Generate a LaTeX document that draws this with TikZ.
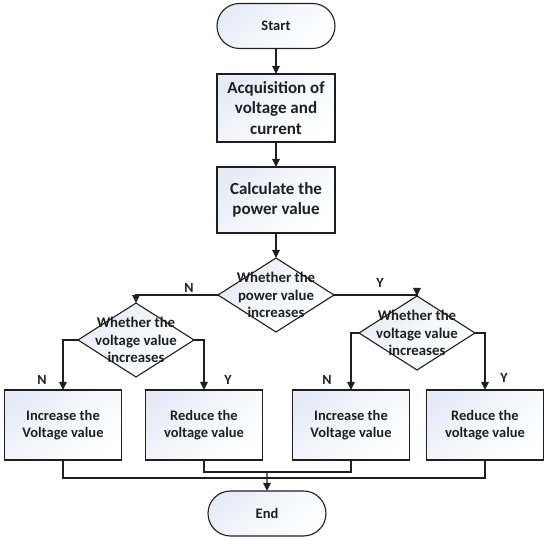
\documentclass[tikz,border=0pt]{standalone}
\usepackage{fontspec}
\setmainfont{Carlito}
\usetikzlibrary{arrows.meta,shapes.geometric,shapes.misc}
\definecolor{FlowInk}{gray}{0.12}
\definecolor{FlowTint}{RGB}{230,235,246}
\tikzset{
    flow/diagram/.style={
        x=1pt, y=-1pt,
        font=\bfseries\fontsize{14.5}{17.5}\selectfont,
        draw=FlowInk,
        text=FlowInk,
        line width=1.3pt,
        every node/.style={inner sep=0pt, outer sep=0pt}
    },
    flow/shade/.style={top color=FlowTint, bottom color=white, middle color=white!60!FlowTint, shading angle=40},
    flow/terminal/.style={
        flow/shade, rounded rectangle, draw=FlowInk, line width=1.1pt,
        minimum width=118pt, minimum height=45pt
    },
    flow/process/.style={
        flow/shade, rectangle, draw=FlowInk, line width=1.1pt, align=center,
        minimum width=118pt, minimum height=68pt
    },
    flow/bigtext/.style={font=\bfseries\fontsize{17}{20.5}\selectfont},
    flow/decision/.style={
        flow/shade, diamond, draw=FlowInk, line width=1.1pt,
        minimum width=116pt, minimum height=74pt
    },
    flow/dtext/.style={align=center, font=\bfseries\fontsize{14.8}{17.5}\selectfont},
    flow/answer/.style={font=\bfseries\fontsize{14}{16}\selectfont},
    flow/line/.style={draw=FlowInk, line width=1.3pt},
    flow/arrow/.style={
        draw=FlowInk, line width=1.3pt,
        -{Triangle[length=8pt, width=7.5pt]}
    }
}

\begin{document}
\begin{tikzpicture}[flow/diagram]
    \useasboundingbox (0,0) rectangle (550,540);
    \node[flow/terminal] (start) at (276,26) {Start};
    \node[flow/process, flow/bigtext] (acq) at (276,108) {Acquisition of\\voltage and\\current};
    \node[flow/process, flow/bigtext, minimum height=66pt] (calc) at (276,200) {Calculate the\\power value};
    \node[flow/decision, label={[flow/dtext]center:{Whether the\\power value\\increases}}]
        (pw) at (276,295) {};
    \node[flow/decision, label={[flow/dtext]center:{Whether the\\voltage value\\increases}}]
        (vl) at (136,340) {};
    \node[flow/decision, label={[flow/dtext]center:{Whether the\\voltage value\\increases}}]
        (vr) at (417,333) {};
    \node[flow/process, minimum width=117pt, minimum height=70pt] (incL) at (63,425) {Increase the\\Voltage value};
    \node[flow/process, minimum width=117pt, minimum height=70pt] (redL) at (204,425) {Reduce the\\voltage value};
    \node[flow/process, minimum width=117pt, minimum height=70pt] (incR) at (351,425) {Increase the\\Voltage value};
    \node[flow/process, minimum width=117pt, minimum height=70pt] (redR) at (485,425) {Reduce the\\voltage value};
    \node[flow/terminal] (stop) at (267,513.5) {End};
    % branch marks
    \node[flow/answer] (pwN) at (189,288) {N};
    \node[flow/answer] (pwY) at (380,283) {Y};
    \node[flow/answer] (vlN) at (42,380) {N};
    \node[flow/answer] (vlY) at (228,380) {Y};
    \node[flow/answer] (vrN) at (327,380) {N};
    \node[flow/answer] (vrY) at (504,378) {Y};
    % join points above End
    \coordinate (joinA) at (267,472);
    \coordinate (joinB) at (267,478);
    \draw[flow/arrow] (start) -- (acq);
    \draw[flow/arrow] (acq) -- (calc);
    \draw[flow/arrow] (calc) -- (pw);
    \draw[flow/arrow] (pw.west) -| (vl.north);
    \draw[flow/arrow] (pw.east) -| (vr.north);
    \draw[flow/arrow] (vl.west) -| (incL.north);
    \draw[flow/arrow] (vl.east) -| (redL.north);
    \draw[flow/arrow] (vr.west) -| (incR.north);
    \draw[flow/arrow] (vr.east) -| (redR.north);
    \draw[flow/line] (redL.south) |- (joinA) -| (incR.south);
    \draw[flow/line] (incL.south) |- (joinB) -| (redR.south);
    \draw[flow/arrow] (joinA) -- (stop);
\end{tikzpicture}
\end{document}
